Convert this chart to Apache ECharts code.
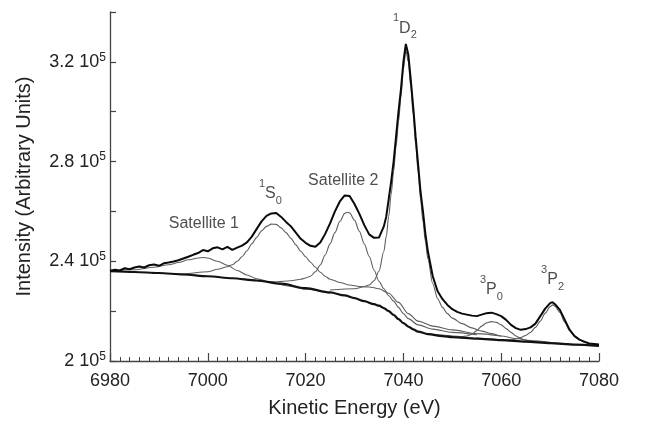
<!DOCTYPE html>
<html>
<head>
<meta charset="utf-8">
<script src="https://cdn.jsdelivr.net/npm/echarts@6/dist/echarts.min.js"></script>
<style>
  html, body { margin: 0; padding: 0; background: #fff; }
  #chart { width: 648px; height: 429px; }
</style>
</head>
<body>
<div id="chart"></div>
<script>
// intensities are in units of 10^5 counts

// measured spectrum (thick black, noisy)
const measE = [6980, 6981, 6982, 6983, 6984, 6985, 6986, 6987, 6988, 6989, 6990, 6991, 6992, 6993, 6994, 6995,
  6996, 6997, 6998, 6999, 7000, 7001, 7002, 7003, 7004, 7005, 7006, 7007, 7008, 7009, 7010, 7011, 7012, 7013,
  7014, 7015, 7016, 7017, 7018, 7019, 7020, 7021, 7022, 7023, 7024, 7025, 7026, 7027, 7028, 7029, 7030, 7031,
  7032, 7033, 7034, 7035, 7036, 7036.5, 7037, 7037.5, 7038, 7038.5, 7039, 7039.5, 7040, 7040.5, 7041, 7041.5,
  7042, 7042.5, 7043, 7043.5, 7044, 7044.5, 7045, 7046, 7047, 7048, 7049, 7050, 7051, 7052, 7053, 7054, 7055,
  7056, 7057, 7058, 7059, 7060, 7061, 7062, 7063, 7064, 7065, 7066, 7067, 7068, 7069, 7070, 7070.5, 7071, 7072,
  7073, 7074, 7075, 7076, 7077, 7078, 7079, 7080];
const measI = [2.362, 2.366, 2.363, 2.372, 2.368, 2.375, 2.379, 2.375, 2.384, 2.387, 2.382, 2.392, 2.395, 2.399,
  2.404, 2.411, 2.418, 2.426, 2.433, 2.445, 2.440, 2.452, 2.456, 2.448, 2.458, 2.446, 2.455, 2.463, 2.476, 2.499,
  2.530, 2.560, 2.582, 2.592, 2.594, 2.578, 2.558, 2.540, 2.515, 2.490, 2.474, 2.462, 2.458, 2.475, 2.510, 2.552,
  2.600, 2.640, 2.664, 2.662, 2.630, 2.590, 2.545, 2.508, 2.494, 2.495, 2.540, 2.580, 2.650, 2.720, 2.800, 2.900,
  3.000, 3.090, 3.200, 3.272, 3.230, 3.130, 3.020, 2.900, 2.790, 2.680, 2.600, 2.510, 2.440, 2.340, 2.280, 2.248,
  2.225, 2.208, 2.197, 2.190, 2.186, 2.182, 2.180, 2.186, 2.192, 2.194, 2.188, 2.180, 2.165, 2.145, 2.132, 2.125,
  2.128, 2.135, 2.150, 2.180, 2.210, 2.232, 2.236, 2.228, 2.205, 2.165, 2.125, 2.100, 2.086, 2.078, 2.070, 2.068,
  2.066];

// background
const bgE = [6980, 6985, 6990, 6995, 7000, 7005, 7010, 7015, 7020, 7025, 7028, 7030, 7032, 7034, 7035, 7036,
  7037, 7038, 7039, 7040, 7041, 7042, 7043, 7045, 7048, 7050, 7055, 7060, 7065, 7070, 7075, 7080];
const bgI = [2.360, 2.357, 2.353, 2.347, 2.340, 2.332, 2.323, 2.310, 2.292, 2.275, 2.263, 2.252, 2.240, 2.228,
  2.222, 2.212, 2.200, 2.185, 2.168, 2.152, 2.138, 2.127, 2.118, 2.108, 2.100, 2.096, 2.090, 2.084, 2.078, 2.072,
  2.066, 2.061];

// fitted components (grey), each drawn on top of the background
const sat1E = [6980, 6985, 6989, 6992, 6994, 6996, 6998, 6999, 7000, 7002, 7004, 7006, 7008, 7010, 7013, 7016,
  7020, 7025];
const sat1I = [2.361, 2.366, 2.376, 2.386, 2.395, 2.406, 2.413, 2.415, 2.413, 2.400, 2.384, 2.363, 2.345, 2.330,
  2.315, 2.302, 2.288, 2.272];

const s0E = [6990, 6995, 7000, 7002, 7004, 7005, 7006, 7007, 7008, 7009, 7010, 7011, 7012, 7013, 7014, 7015,
  7016, 7017, 7018, 7019, 7020, 7021, 7022, 7023, 7024, 7025, 7027, 7029, 7031, 7033, 7035, 7037, 7039, 7041,
  7043, 7046, 7050, 7055, 7060];
const s0I = [2.352, 2.350, 2.358, 2.368, 2.378, 2.386, 2.400, 2.418, 2.442, 2.470, 2.496, 2.522, 2.540, 2.549,
  2.548, 2.534, 2.515, 2.492, 2.466, 2.440, 2.418, 2.396, 2.376, 2.356, 2.340, 2.328, 2.315, 2.305, 2.299, 2.297,
  2.290, 2.272, 2.235, 2.190, 2.160, 2.140, 2.125, 2.110, 2.100];

const sat2E = [7010, 7014, 7017, 7019, 7020, 7021, 7022, 7023, 7024, 7025, 7026, 7027, 7028, 7028.5, 7029, 7030,
  7031, 7032, 7033, 7034, 7035, 7036, 7037, 7038, 7039, 7040, 7041, 7043, 7046, 7050, 7055];
const sat2I = [2.322, 2.318, 2.322, 2.328, 2.333, 2.340, 2.358, 2.385, 2.425, 2.470, 2.515, 2.560, 2.592, 2.597,
  2.594, 2.565, 2.520, 2.470, 2.420, 2.365, 2.320, 2.290, 2.262, 2.240, 2.215, 2.190, 2.170, 2.145, 2.128, 2.115,
  2.105];

const d2E = [7025, 7030, 7032, 7033, 7034, 7035, 7036, 7036.5, 7037, 7037.5, 7038, 7038.5, 7039, 7039.5, 7040,
  7040.5, 7041, 7041.5, 7042, 7042.5, 7043, 7043.5, 7044, 7044.5, 7045, 7046, 7047, 7048, 7049, 7050, 7052, 7054,
  7056, 7058, 7060, 7063, 7066, 7070];
const d2I = [2.285, 2.290, 2.298, 2.305, 2.322, 2.360, 2.440, 2.500, 2.580, 2.670, 2.760, 2.860, 2.960, 3.060,
  3.170, 3.245, 3.200, 3.100, 2.990, 2.870, 2.760, 2.650, 2.560, 2.480, 2.410, 2.310, 2.250, 2.215, 2.190, 2.172,
  2.150, 2.133, 2.120, 2.110, 2.100, 2.090, 2.082, 2.075];

const p0E = [7045, 7048, 7050, 7052, 7053, 7054, 7055, 7056, 7057, 7058, 7059, 7060, 7061, 7062, 7063, 7064,
  7065, 7067, 7070, 7075];
const p0I = [2.110, 2.104, 2.100, 2.098, 2.100, 2.108, 2.122, 2.140, 2.153, 2.158, 2.155, 2.145, 2.130, 2.115,
  2.100, 2.090, 2.083, 2.078, 2.073, 2.066];

const p2E = [7055, 7060, 7062, 7063, 7064, 7065, 7066, 7067, 7068, 7069, 7070, 7070.5, 7071, 7072, 7073, 7074,
  7075, 7076, 7077, 7078, 7080];
const p2I = [2.092, 2.086, 2.085, 2.088, 2.094, 2.102, 2.115, 2.135, 2.160, 2.192, 2.218, 2.225, 2.220, 2.195,
  2.155, 2.122, 2.100, 2.085, 2.076, 2.070, 2.064];

// peak annotations: text, energy, intensity of the label centre
const peakNames = ["Satellite 1", "1S0", "Satellite 2", "1D2", "3P0", "3P2"];
const peakLabelE = [6999.2, 7012.8, 7027.7, 7040.3, 7058.0, 7070.5];
const peakLabelI = [2.550, 2.671, 2.725, 3.335, 2.285, 2.327];

const xLabelStep = 20;
const yLabelled = [2, 2.4, 2.8, 3.2];

const zip = (xs, ys) => xs.map((x, i) => [x, ys[i]]);

const FONT = "Liberation Sans, Arial, Helvetica, sans-serif";
const GREY = "#5e5e5e";
const AXIS = "#444";

function peakText(name) {
  // "1S0" -> superscript 1, S, subscript 0
  if (name.startsWith("Satellite")) return `{t|${name}}`;
  return `{sup|${name[0]}}{t|${name[1]}}{sub|${name[2]}}`;
}

const chart = echarts.init(document.getElementById("chart"));

const compLine = (data) => ({
  type: "line",
  data,
  showSymbol: false,
  smooth: 0.3,
  smoothMonotone: "x",
  lineStyle: { color: GREY, width: 1.1 },
  z: 2,
  silent: true,
});

chart.setOption({
  animation: false,
  backgroundColor: "#fff",
  textStyle: { fontFamily: FONT },
  grid: { left: 110, right: 49, top: 12, bottom: 68, outerBoundsMode: "none" },
  xAxis: [
    {
      // minor ticks every 2 eV, labels every 20 eV
      type: "value",
      position: "bottom",
      min: 6980,
      max: 7080,
      interval: 2,
      name: "Kinetic Energy (eV)",
      nameLocation: "middle",
      nameGap: 37,
      nameTextStyle: { fontSize: 20, color: "#222", fontFamily: FONT },
      axisLine: { lineStyle: { color: AXIS, width: 1.3 } },
      axisTick: { inside: true, length: 4, lineStyle: { color: AXIS, width: 1 } },
      splitLine: { show: false },
      axisLabel: {
        fontSize: 18,
        color: "#222",
        margin: 11,
        fontFamily: FONT,
        formatter: (v) => (Math.round(v) % xLabelStep === 0 ? String(Math.round(v)) : ""),
      },
    },
    {
      // longer major ticks
      type: "value",
      position: "bottom",
      min: 6980,
      max: 7080,
      interval: 20,
      axisLine: { show: false },
      axisTick: { inside: true, length: 8, lineStyle: { color: AXIS, width: 1.2 } },
      axisLabel: { show: false },
      splitLine: { show: false },
    },
  ],
  yAxis: {
    type: "value",
    min: 2,
    max: 3.4,
    interval: 0.2,
    name: "Intensity (Arbitrary Units)",
    nameLocation: "middle",
    nameGap: 76,
    nameTextStyle: { fontSize: 20, color: "#222", fontFamily: FONT },
    axisLine: { lineStyle: { color: AXIS, width: 1.3 } },
    axisTick: { inside: true, length: 6, lineStyle: { color: AXIS, width: 1.2 } },
    splitLine: { show: false },
    axisLabel: {
      margin: 4,
      color: "#222",
      formatter: (v) => {
        const r = Math.round(v * 10) / 10;
        return yLabelled.includes(r) ? `{a|${r} 10}{b|5}` : "";
      },
      rich: {
        a: { fontSize: 18, color: "#222", fontFamily: FONT },
        b: { fontSize: 12, color: "#222", fontFamily: FONT, padding: [0, 0, 9, 0] },
      },
    },
  },
  series: [
    { ...compLine(zip(sat1E, sat1I)) },
    { ...compLine(zip(s0E, s0I)) },
    { ...compLine(zip(sat2E, sat2I)) },
    { ...compLine(zip(d2E, d2I)) },
    { ...compLine(zip(p0E, p0I)) },
    { ...compLine(zip(p2E, p2I)) },
    {
      type: "line",
      data: zip(bgE, bgI),
      showSymbol: false,
      smooth: 0.3,
      smoothMonotone: "x",
      lineStyle: { color: "#111", width: 2.2 },
      z: 3,
      silent: true,
    },
    {
      type: "line",
      data: zip(measE, measI),
      showSymbol: false,
      lineStyle: { color: "#0a0a0a", width: 2 },
      z: 4,
      silent: true,
    },
    {
      type: "scatter",
      symbolSize: 0,
      silent: true,
      z: 5,
      data: peakNames.map((n, i) => ({ value: [peakLabelE[i], peakLabelI[i]], name: n })),
      label: {
        show: true,
        position: "inside",
        formatter: (p) => peakText(p.name),
        rich: {
          t: { fontSize: 16, color: "#222", fontFamily: FONT },
          sup: { fontSize: 11, color: "#222", fontFamily: FONT, padding: [0, 0, 20, 0] },
          sub: { fontSize: 11, color: "#222", fontFamily: FONT, padding: [14, 0, 0, 0] },
        },
      },
    },
  ],
});
</script>
</body>
</html>
